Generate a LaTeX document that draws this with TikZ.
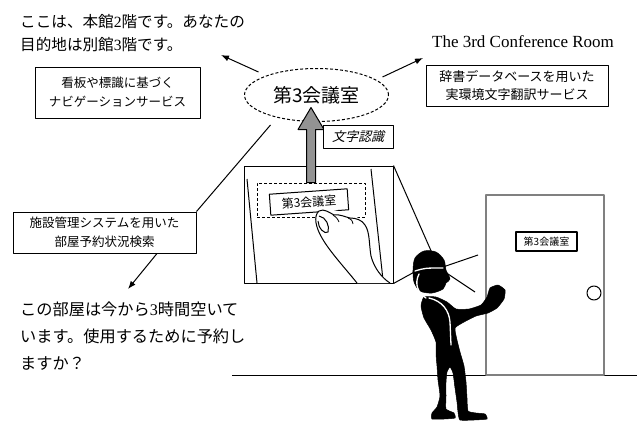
\documentclass[tikz,border=0pt]{standalone}
\usepackage{fontspec}
\setmainfont{Liberation Serif}
\newfontfamily\jp{Noto Sans CJK JP}
\newfontfamily\jpit[FakeSlant=0.25]{Noto Sans CJK JP}
\usetikzlibrary{arrows.meta,calc,shapes.geometric}

\tikzset{
  msg/.style={font=\jp\fontsize{15.6}{23}\selectfont, align=left, inner sep=0, anchor=west},
  svc/.style={draw, line width=1pt, font=\jp\fontsize{12.5}{19}\selectfont, align=center, inner sep=0},
  arr/.style={-{Latex[length=8pt,width=6pt]}, line width=1pt},
  thin line/.style={line width=1pt},
  dashline/.style={dash pattern=on 3pt off 2pt, line width=1pt},
  figure/.style={fill=black, draw=black, line width=0.5pt},
  highlight/.style={draw=white, line width=1.3pt, line cap=round}
}

\begin{document}
\begin{tikzpicture}[x=1pt, y=-1pt, line join=round]
\useasboundingbox (0,0) rectangle (643,423);

% ---- messages and services -------------------------------------------
\node[msg] (here) at (20,33) {ここは、本館{\rmfamily 2}階です。あなたの\\目的地は別館{\rmfamily 3}階です。};
\node[svc, minimum width=165, minimum height=51] (nav) at (117.5,92.5)
  {看板や標識に基づく\\ナビゲーションサービス};
\node[font=\fontsize{17}{20}\selectfont, inner sep=0] (eng) at (523,42) {The 3rd Conference Room};
\node[svc, minimum width=182, minimum height=41, font=\jp\fontsize{13}{18}\selectfont] (dict) at (517,85.5)
  {辞書データベースを用いた\\実環境文字翻訳サービス};
\node[svc, minimum width=183, minimum height=41] (fac) at (104.5,232.5)
  {施設管理システムを用いた\\部屋予約状況検索};
\node[msg, font=\jp\fontsize{16.2}{27}\selectfont] (avail) at (20,336)
  {この部屋は今から{\rmfamily 3}時間空いて\\います。使用するために予約し\\ますか？};

% ---- recognised room name ---------------------------------------------
\node[ellipse, draw, dashline, minimum width=144, minimum height=53, inner sep=0,
      font=\jp\fontsize{19}{19}\selectfont] (goal) at (316.5,95) {第3会議室};

\coordinate (hereTip) at (221,55);
\coordinate (engTip) at (423,58);
\coordinate (availTip) at (128,289);
\draw[arr] ($(goal.center)+(-58,-23)$) -- (hereTip);
\draw[arr] ($(goal.center)+(66,-18)$) -- (engTip);
\draw[thin line] ($(goal.center)+(-46,30)$) -- (fac.north east);
\draw[arr] ($(fac.south)+(52.5,0)$) -- (availTip);

% ---- camera view of the sign -------------------------------------------
\node[draw, thin line, minimum width=149, minimum height=117, inner sep=0] (panel) at (318.5,224.5) {};
\draw[thin line] (247,179) -- (257,283);
\draw[thin line] (371,169) -- (383,280);
\node[draw, dashline, minimum width=108, minimum height=34, inner sep=0] (view) at (311,200) {};

% recognition arrow
\draw[fill=gray!85, line width=1pt]
  ($(view.north)+(-4.5,0)$) -- ++(0,-53) -- ++(-8.5,0) -- ++(13,-22)
  -- ++(13,22) -- ++(-8.5,0) -- ++(0,53) -- cycle;
\node[draw, fill=white, thin line, minimum width=70, minimum height=23, inner sep=0,
      font=\jpit\fontsize{13}{13}\selectfont] (ocr) at (358,136.5) {文字認識};

\node[draw, fill=white, thin line, rotate=4, minimum width=78, minimum height=21, inner sep=0,
      font=\jp\fontsize{12}{12}\selectfont] (tag) at (309,202) {第3会議室};

% hand pointing at the sign
\fill[white] (357,283) .. controls (345,268) and (330,252) .. (322,238)
  .. controls (316,228) and (313,216) .. (319,211)
  .. controls (330,207) and (350,213) .. (362,220)
  .. controls (370,228) and (369,245) .. (371,256)
  .. controls (374,268) and (382,278) .. (390,283) -- cycle;
\draw[thin line] (357,283) .. controls (345,268) and (330,252) .. (322,238)
  .. controls (316,228) and (313,216) .. (319,211)
  .. controls (324,208) and (330,213) .. (334,215)
  .. controls (340,214) and (345,217) .. (350,218)
  .. controls (356,218) and (362,220) .. (365,225)
  .. controls (370,232) and (369,245) .. (371,256)
  .. controls (374,268) and (382,278) .. (390,283);
\draw[thin line] (319,216) .. controls (326,217) and (330,226) .. (328,232)
  .. controls (325,235) and (318,228) .. (318,221);
\draw[line width=0.8pt] (333,215) .. controls (337,218) .. (339,222);
\draw[line width=0.8pt] (348,218) .. controls (352,220) .. (353,224);

% ---- lines of sight --------------------------------------------------------
\coordinate (headTop) at (432,253);
\coordinate (headBack) at (418,270);
\coordinate (eyeA) at (443,267);
\coordinate (eyeB) at (445,272);
\coordinate (gazeA) at (478,255);
\coordinate (gazeB) at (475,292);
\draw[thin line] (panel.north east) -- (headTop);
\draw[thin line] (panel.south east) -- (headBack);
\draw[thin line] (eyeA) -- (gazeA);
\draw[thin line] (eyeB) -- (gazeB);

% ---- door and floor --------------------------------------------------------
\coordinate (floorL) at (232,375);
\coordinate (floorR) at (637,375);
\draw[thin line] (floorL) -- (floorR);
\node[draw=gray, line width=1.3pt, minimum width=118, minimum height=180, inner sep=0] (door) at (545,285) {};
\node[draw, line width=1.3pt, minimum width=61, minimum height=19, inner sep=0,
      font=\jp\fontsize{10}{10}\selectfont] (sign) at (546.5,241.5) {第3会議室};
\node[circle, draw, thin line, minimum size=14, inner sep=0] (knob) at (594,293) {};

% ---- person -----------------------------------------------------------------
% body, legs and raised arm
\fill[figure] plot[smooth cycle, tension=0.3] coordinates {
  (424,297) (421,306) (424,318) (431,330) (436,342) (436,354) (437,366)
  (438,380) (440,396) (437,407) (432,413) (432,419) (444,419) (455,418)
  (454,413) (446,409) (446,396) (446,382) (447,372) (450,367)
  (453,373) (455,388) (457,402) (458,412) (460,420) (474,420) (487,419)
  (485,414) (476,413) (468,411) (467,398) (466,382) (464,366) (460,352)
  (457,340) (455,328) (464,322) (476,316) (488,313) (497,308) (504,299)
  (505,290) (498,285) (490,288) (487,297) (481,305) (469,309) (456,309)
  (447,302) (436,297)};
% head with cap and profile
\fill[figure] plot[smooth cycle, tension=0.5] coordinates {
  (413,270) (415,258) (424,251) (436,252) (444,260) (446,270) (450,279) (446,283)
  (443,289) (432,293) (420,291) (414,282)};
\draw[highlight] (415,271) .. controls (425,268) .. (443,268);
\draw[highlight] (419,274) .. controls (414,284) and (418,293) .. (426,298);
\draw[highlight] (429,298) .. controls (442,301) and (449,310) .. (450,322) -- (451,345);
\end{tikzpicture}
\end{document}
